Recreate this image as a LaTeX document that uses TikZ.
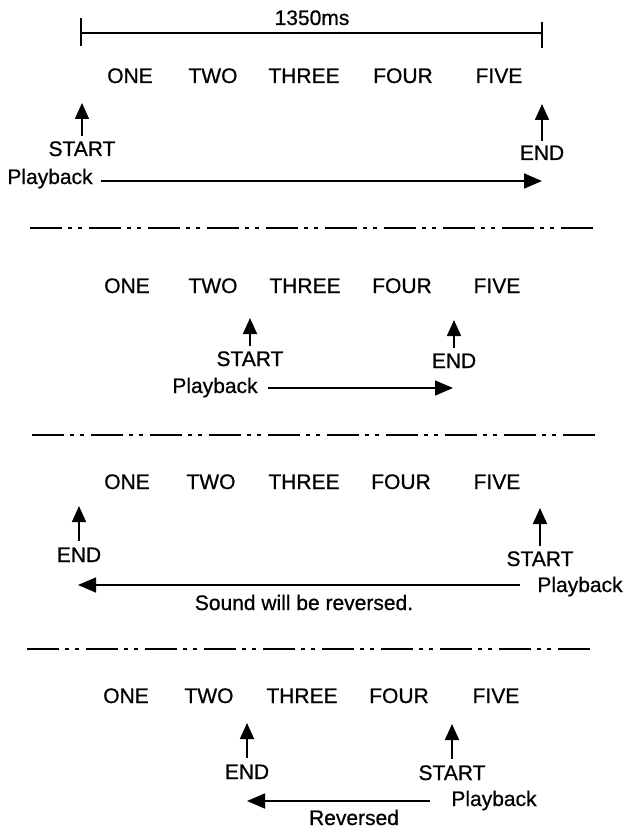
\documentclass[tikz,border=0pt]{standalone}
\usepackage{fontspec}
\setmainfont{Liberation Sans}[FakeBold=0.7]
\usetikzlibrary{arrows.meta}
\begin{document}
\begin{tikzpicture}[x=1pt,y=-1pt,
  txt/.style={font=\fontsize{21}{25}\selectfont, anchor=base, inner sep=3pt},
  uparrow/.style={line width=1.6pt, -{Triangle[length=16pt,width=14pt]}},
  harrow/.style={line width=1.6pt, -{Triangle[length=18pt,width=15pt]}},
  sepline/.style={line width=2pt, dash pattern=on 32pt off 6pt on 4pt off 6pt on 4pt off 7pt},
  bar/.style={line width=1.4pt}]
\useasboundingbox (0,0) rectangle (624,829);

% ---------- Section 1 ----------
\node[txt] (ms) at (312,25) {1350ms};
\coordinate (bl) at (81,33);
\coordinate (br) at (542,33);
\draw[bar] (81,18) -- (81,46);
\draw[bar] (542,22) -- (542,48);
\draw[bar] (bl) -- (br);

\node[txt] (a1) at (130,83) {ONE};
\node[txt] (b1) at (213,83) {TWO};
\node[txt] (c1) at (304,83) {THREE};
\node[txt] (d1) at (403,83) {FOUR};
\node[txt] (f1) at (499,83) {FIVE};

\node[txt] (s1) at (82,156) {START};
\coordinate (s1t) at (82,103);
\draw[uparrow, shorten <=2.5pt] (s1.north) -- (s1t);
\node[txt] (e1) at (542,160) {END};
\coordinate (e1t) at (542,104);
\draw[uparrow, shorten <=1.5pt] (e1.north) -- (e1t);
\node[txt] (p1) at (50,184) {Playback};
\coordinate (p1t) at (542,181);
\draw[harrow, shorten <=5pt] (p1.east |- p1t) -- (p1t);

\draw[sepline] (30,228) -- (597,228);

% ---------- Section 2 ----------
\node[txt] (a2) at (127,293) {ONE};
\node[txt] (b2) at (213,293) {TWO};
\node[txt] (c2) at (305,293) {THREE};
\node[txt] (d2) at (402,293) {FOUR};
\node[txt] (f2) at (497,293) {FIVE};

\node[txt] (s2) at (250,366) {START};
\coordinate (s2t) at (250,318);
\draw[uparrow, shorten <=2.5pt] (s2.north) -- (s2t);
\node[txt] (e2) at (454,368) {END};
\coordinate (e2t) at (454,320);
\draw[uparrow, shorten <=2.5pt] (e2.north) -- (e2t);
\node[txt] (p2) at (215,393) {Playback};
\coordinate (p2t) at (453,388);
\draw[harrow, shorten <=7pt] (p2.east |- p2t) -- (p2t);

\draw[sepline] (32,435) -- (595,435);

% ---------- Section 3 ----------
\node[txt] (a3) at (127,489) {ONE};
\node[txt] (b3) at (211,489) {TWO};
\node[txt] (c3) at (304,489) {THREE};
\node[txt] (d3) at (401,489) {FOUR};
\node[txt] (f3) at (497,489) {FIVE};

\node[txt] (e3) at (79,562) {END};
\coordinate (e3t) at (79,506);
\draw[uparrow, shorten <=3.5pt] (e3.north) -- (e3t);
\node[txt] (s3) at (540,566) {START};
\coordinate (s3t) at (540,508);
\draw[uparrow, shorten <=2.5pt] (s3.north) -- (s3t);
\node[txt] (p3) at (580,592) {Playback};
\coordinate (p3t) at (78,585);
\draw[harrow, shorten <=14pt] (p3.west |- p3t) -- (p3t);
\node[txt] (snd) at (304,610) {Sound will be reversed.};

\draw[sepline] (27,649) -- (593,649);

% ---------- Section 4 ----------
\node[txt] (a4) at (126,703) {ONE};
\node[txt] (b4) at (209,703) {TWO};
\node[txt] (c4) at (302,703) {THREE};
\node[txt] (d4) at (399,703) {FOUR};
\node[txt] (f4) at (496,703) {FIVE};

\node[txt] (e4) at (247,779) {END};
\coordinate (e4t) at (247,723);
\draw[uparrow, shorten <=3.5pt] (e4.north) -- (e4t);
\node[txt] (s4) at (452,780) {START};
\coordinate (s4t) at (452,724);
\draw[uparrow, shorten <=3.5pt] (s4.north) -- (s4t);
\node[txt] (p4) at (494,806) {Playback};
\coordinate (p4t) at (247,801);
\draw[harrow, shorten <=18pt] (p4.west |- p4t) -- (p4t);
\node[txt] (rev) at (354,825) {Reversed};
\end{tikzpicture}
\end{document}
